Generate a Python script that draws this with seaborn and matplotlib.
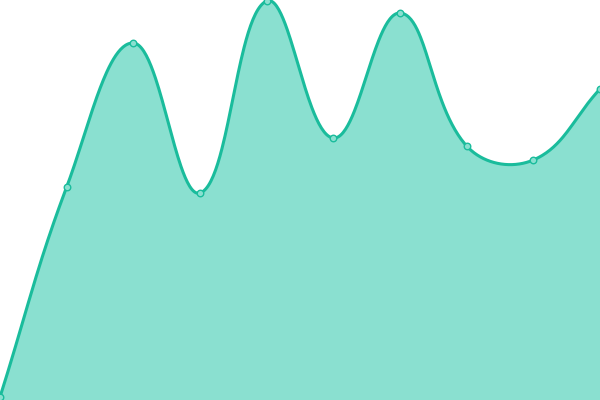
import numpy as np
import pandas as pd
import matplotlib
matplotlib.use("Agg")
import matplotlib.pyplot as plt
import seaborn as sns

# data
labels = ["1", "2", "3", "4", "5", "6", "7", "8", "9", "10"]
values = [3, 213, 357, 207, 399, 262, 387, 254, 240, 311]

LINE = "#1abc9c"
FILL = "#8ae0d0"

sns.set_theme(style="white")
fig = plt.figure(figsize=(6, 4), dpi=100)
ax = fig.add_axes([0, 0, 1, 1])
n = len(values)
xs = np.arange(n, dtype=float)
ys = np.array(values, dtype=float)
ax.set_xlim(0, n - 1)
ax.set_ylim(0, 400)

# Chart.js-like spline (tension 0.4) computed in pixel space
W, H = 600.0, 400.0
px = xs * W / (n - 1)
py = ys * H / 400.0
t = 0.4
cps = []
for i in range(n):
    p1 = np.array([px[i], py[i]])
    p0 = np.array([px[i - 1], py[i - 1]]) if i > 0 else p1
    p2 = np.array([px[i + 1], py[i + 1]]) if i < n - 1 else p1
    d01 = np.linalg.norm(p1 - p0)
    d12 = np.linalg.norm(p2 - p1)
    tot = d01 + d12
    s01 = d01 / tot if tot else 0
    s12 = d12 / tot if tot else 0
    cp_prev = p1 - t * s01 * (p2 - p0)
    cp_next = p1 + t * s12 * (p2 - p0)
    cps.append((cp_prev, cp_next))

cx, cy = [], []
tt = np.linspace(0, 1, 60)
for i in range(n - 1):
    P0 = np.array([px[i], py[i]])
    P1 = cps[i][1]
    P2 = cps[i + 1][0]
    P3 = np.array([px[i + 1], py[i + 1]])
    b = ((1 - tt) ** 3)[:, None] * P0 + (3 * (1 - tt) ** 2 * tt)[:, None] * P1 \
        + (3 * (1 - tt) * tt ** 2)[:, None] * P2 + (tt ** 3)[:, None] * P3
    cx.extend(b[:, 0] * (n - 1) / W)
    cy.extend(b[:, 1] * 400.0 / H)
cx = np.array(cx)
cy = np.array(cy)

ax.fill_between(cx, 0, cy, color=FILL, linewidth=0, zorder=1)
curve = pd.DataFrame({"x": cx, "y": cy})
sns.lineplot(data=curve, x="x", y="y", color=LINE, linewidth=2.2, ax=ax,
             sort=False, estimator=None, zorder=2)
pts = pd.DataFrame({"x": xs, "y": ys})
sns.scatterplot(data=pts, x="x", y="y", ax=ax, s=22, color=FILL,
                edgecolor=LINE, linewidth=1.0, zorder=3, clip_on=False)

ax.set_axis_off()
fig.savefig("out.png", dpi=100)
